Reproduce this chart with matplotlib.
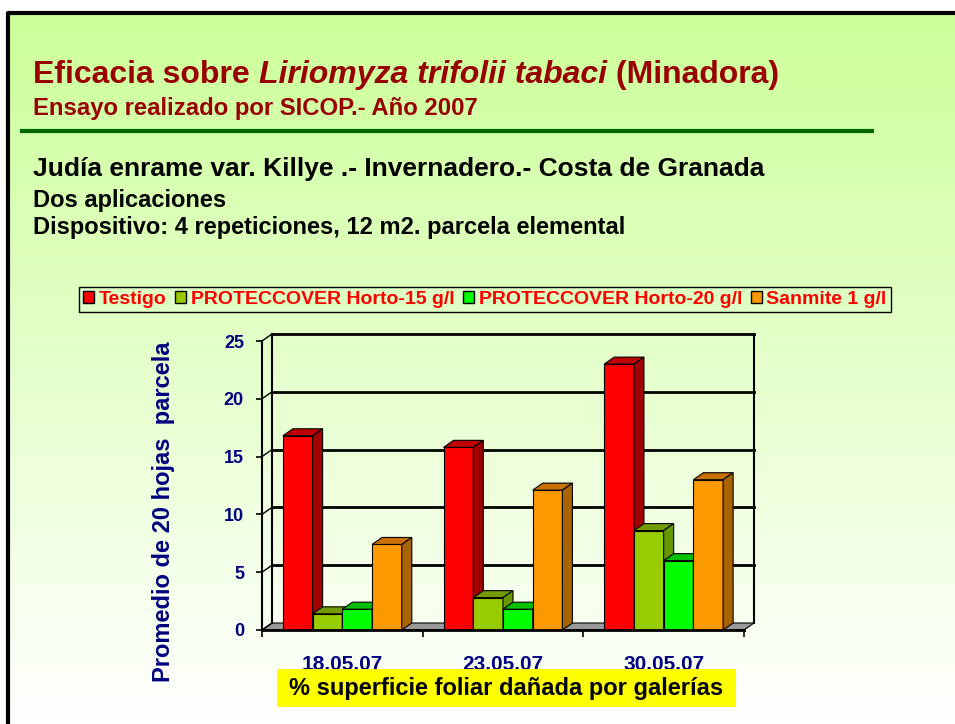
import matplotlib
matplotlib.use("Agg")
import matplotlib.pyplot as plt
import numpy as np
from matplotlib.patches import Polygon, Rectangle
from matplotlib.lines import Line2D

plt.rcParams['font.family'] = ['Liberation Sans', 'DejaVu Sans']

dates = ["18.05.07", "23.05.07", "30.05.07"]
series = ["Testigo", "PROTECCOVER Horto-15 g/l", "PROTECCOVER Horto-20 g/l", "Sanmite 1 g/l"]
testigo = [16.8, 15.8, 23.0]
horto15 = [1.4, 2.8, 8.6]
horto20 = [1.8, 1.8, 6.0]
sanmite = [7.4, 12.1, 13.0]
yticks = [0, 5, 10, 15, 20, 25]

values = [testigo, horto15, horto20, sanmite]
front = ["#FF0000", "#99CC00", "#00FF00", "#FF9900"]
top = ["#C00000", "#739A00", "#00C000", "#C87000"]
side = ["#A00000", "#669900", "#00A000", "#A86400"]

W, H = 955, 724
fig = plt.figure(figsize=(W / 100, H / 100), dpi=100)

# background gradient + slide frame
bg = fig.add_axes([0, 0, 1, 1], zorder=-10)
bg.set_xlim(0, W)
bg.set_ylim(H, 0)
bg.axis("off")
c_top = np.array([204, 255, 153]) / 255
c_bot = np.array([255, 255, 255]) / 255
t = np.linspace(0, 1, 256)[:, None]
grad = (c_top * (1 - t) + c_bot * t)[:, None, :]
bg.imshow(grad, extent=[9, W, H, 13], aspect="auto", interpolation="bilinear")
bg.plot([8, 8, W], [H, 13, 13], color="black", lw=3, solid_capstyle="butt")
bg.plot([22, 872], [131, 131], color="#006600", lw=3)

def px(x, y):
    return x / W, 1 - y / H

# title with italic part
r = fig.canvas.get_renderer()
x0, yb = px(33, 83)
parts = [("Eficacia sobre ", "normal"), ("Liriomyza trifolii tabaci", "italic"), (" (Minadora)", "normal")]
for txt, st in parts:
    tt = fig.text(x0, yb, txt, fontsize=23, fontweight="bold", style=st, color="#990000", va="baseline")
    bb = tt.get_window_extent(renderer=r)
    x0 += bb.width / W

fig.text(*px(33, 115), "Ensayo realizado por SICOP.- Año 2007", fontsize=17.2, fontweight="bold",
         color="#990000", va="baseline")
fig.text(*px(33, 176), "Judía enrame var. Killye .- Invernadero.- Costa de Granada", fontsize=19,
         fontweight="bold", color="black", va="baseline")
fig.text(*px(33, 206.5), "Dos aplicaciones", fontsize=17, fontweight="bold", color="black", va="baseline")
fig.text(*px(33, 234), "Dispositivo: 4 repeticiones, 12 m2. parcela elemental", fontsize=17,
         fontweight="bold", color="black", va="baseline")

# chart: front plane of the 3D box
ax = fig.add_axes([262 / W, (H - 630) / H, 482 / W, 289 / H])
ax.set_xlim(0, 3)
ax.set_ylim(0, 25)
ax.patch.set_alpha(0)
for s in ax.spines.values():
    s.set_visible(False)

dx = 10 / (482 / 3)
dy = 7 / (289 / 25)
kw = dict(clip_on=False)

# back wall, left wall, floor
for v in yticks[1:]:
    ax.add_line(Line2D([dx, 3 + dx], [v + dy, v + dy], color="black", lw=2, **kw))
for v in yticks:
    ax.add_line(Line2D([0, dx], [v, v + dy], color="black", lw=1, **kw))
ax.add_line(Line2D([dx, dx], [dy, 25 + dy], color="black", lw=1.5, **kw))
ax.add_line(Line2D([3 + dx, 3 + dx], [dy, 25 + dy], color="black", lw=1.5, **kw))
ax.add_line(Line2D([0, 0], [0, 25], color="black", lw=1.5, **kw))
ax.add_patch(Polygon([(0, 0), (3, 0), (3 + dx, dy), (dx, dy)], closed=True,
                     facecolor="#999999", edgecolor="black", lw=0.8, **kw))
ax.add_line(Line2D([0, 3], [0, 0], color="black", lw=2, zorder=5, **kw))

# bars
bw = 0.185
xc = np.arange(len(dates)) + 0.5
for g in range(len(dates)):
    for i, vals in enumerate(values):
        xl = xc[g] + (i - 2) * bw
        h = vals[g]
        ax.bar(xl, h, width=bw, align="edge", color=front[i], edgecolor="black", lw=0.8, zorder=3)
        ax.add_patch(Polygon([(xl, h), (xl + bw, h), (xl + bw + dx, h + dy), (xl + dx, h + dy)],
                             facecolor=top[i], edgecolor="black", lw=0.8, zorder=3, **kw))
        ax.add_patch(Polygon([(xl + bw, 0), (xl + bw + dx, dy), (xl + bw + dx, h + dy), (xl + bw, h)],
                             facecolor=side[i], edgecolor="black", lw=0.8, zorder=3, **kw))

ax.set_yticks(yticks)
ax.set_yticklabels([str(v) for v in yticks], fontsize=13, fontweight="bold", color="#000080")
ax.tick_params(axis="y", direction="out", length=4, width=1.2, pad=9)
ax.set_xticks(xc)
ax.set_xticklabels(dates, fontsize=15, fontweight="bold", color="#000080")
ax.tick_params(axis="x", which="major", length=0, pad=18)
ax.set_xticks([0, 1, 2, 3], minor=True)
ax.tick_params(axis="x", which="minor", direction="out", length=5, width=1.2)

fig.text(*px(163, 512), "Promedio de 20 hojas  parcela", rotation=90, fontsize=17, fontweight="bold",
         color="#000080", ha="center", va="center")

# x label in yellow box
fig.add_artist(Rectangle(px(277, 707), 459 / W, 38 / H, transform=fig.transFigure,
                         facecolor="#FFFF00", edgecolor="none", zorder=5))
fig.text(*px(506, 688), "% superficie foliar dañada por galerías", fontsize=17, fontweight="bold",
         color="black", ha="center", va="center", zorder=6)

# legend
handles = [Rectangle((0, 0), 1, 1, facecolor=c, edgecolor="black", lw=1) for c in front]
leg = fig.legend(handles, series, loc="center", bbox_to_anchor=px(485, 299.5), ncol=4,
                 frameon=True, fancybox=False, edgecolor="black", facecolor="#DDFFC4", framealpha=1,
                 handlelength=0.55, handleheight=0.55, handletextpad=0.25, columnspacing=0.45,
                 borderpad=0.2, borderaxespad=0,
                 prop={"size": 14, "weight": "bold"})
for tx in leg.get_texts():
    tx.set_color("#FF0000")

fig.savefig("out.png", dpi=100)
